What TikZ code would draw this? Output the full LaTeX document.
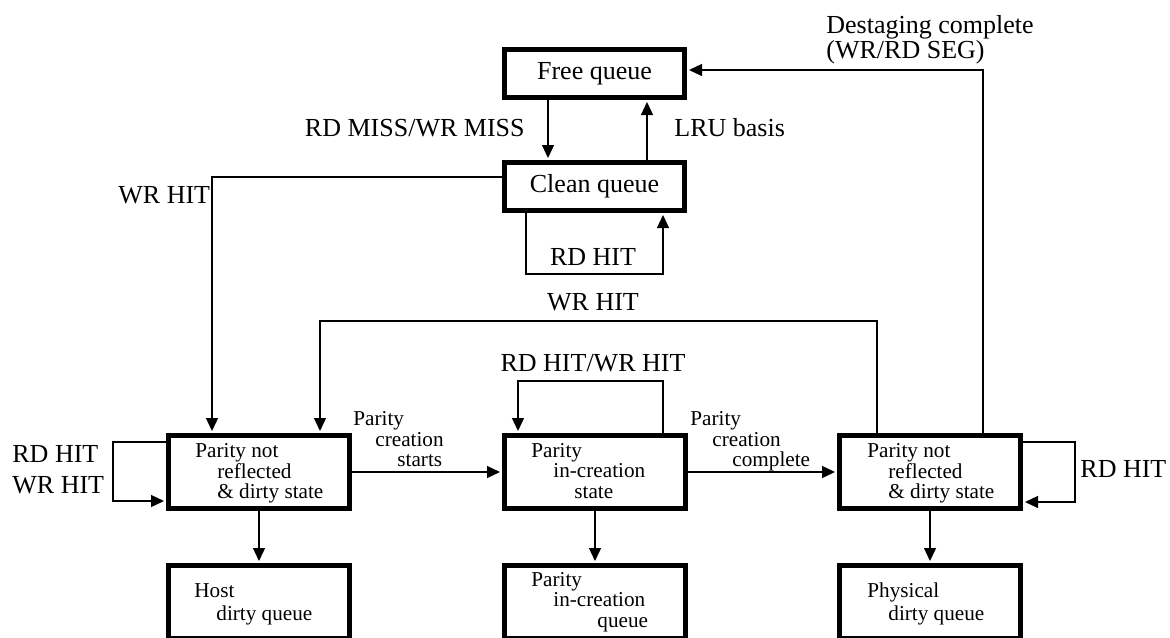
\documentclass[tikz,border=0pt]{standalone}
\usepackage{fontspec}
\setmainfont{Liberation Serif}
\usetikzlibrary{arrows.meta}
\begin{document}
\begin{tikzpicture}[x=0.5pt,y=-0.5pt,
  box/.style={draw, line width=2.5pt, minimum width=90.5pt, minimum height=36.5pt, inner sep=0pt},
  qbox/.style={draw, line width=2.5pt, minimum width=90pt, minimum height=24pt, inner sep=0pt, font=\fontsize{13}{15}\selectfont},
  conn/.style={line width=0.65pt},
  arr/.style={conn, -{Triangle[length=6.5pt,width=6pt]}, shorten >=1pt},
  big/.style={inner sep=0pt, font=\fontsize{13}{15.5}\selectfont},
  small/.style={inner sep=0pt, font=\fontsize{10.6}{10.25}\selectfont},
]
\useasboundingbox (0,0) rectangle (1170,637);

% boxes
\node[qbox] (free) at (594.5,73.5) {Free queue};
\node[qbox] (clean) at (594.5,186.5) {Clean queue};
\node[box] (s1) at (259,472) {};
\node[box] (s2) at (595,472) {};
\node[box] (s3) at (930,472) {};
\node[box] (q1) at (259,602) {};
\node[box] (q2) at (595,602) {};
\node[box] (q3) at (930,602) {};

% box texts
\node[small, anchor=base west] (t1) at (195,457) {\begin{tabular}[t]{@{}l@{}}Parity not\\\hspace*{11pt}reflected\\\hspace*{11pt}\& dirty state\end{tabular}};
\node[small, anchor=base west] (t2) at (531,457) {\begin{tabular}[t]{@{}l@{}}Parity\\\hspace*{11pt}in-creation\\\hspace*{21.5pt}state\end{tabular}};
\node[small, anchor=base west] (t3) at (867,457) {\begin{tabular}[t]{@{}l@{}}Parity not\\\hspace*{10.5pt}reflected\\\hspace*{10.5pt}\& dirty state\end{tabular}};
\node[inner sep=0pt, font=\fontsize{10.6}{11.5}\selectfont, anchor=base west] (t4) at (194,597) {\begin{tabular}[t]{@{}l@{}}Host\\\hspace*{11pt}dirty queue\end{tabular}};
\node[small, anchor=base west] (t5) at (531,586) {\begin{tabular}[t]{@{}l@{}}Parity\\\hspace*{11pt}in-creation\\\hspace*{33pt}queue\end{tabular}};
\node[inner sep=0pt, font=\fontsize{10.6}{11.5}\selectfont, anchor=base west] (t6) at (867,597) {\begin{tabular}[t]{@{}l@{}}Physical\\\hspace*{10.5pt}dirty queue\end{tabular}};

% small labels
\node[small, anchor=base west] (lstart) at (353,425.5) {\begin{tabular}[t]{@{}l@{}}Parity\\\hspace*{11pt}creation\\\hspace*{22pt}starts\end{tabular}};
\node[small, anchor=base west] (lcomp) at (690,425.5) {\begin{tabular}[t]{@{}l@{}}Parity\\\hspace*{11pt}creation\\\hspace*{21pt}complete\end{tabular}};

% big labels
\node[inner sep=0pt, font=\fontsize{13}{12.5}\selectfont, anchor=base west] (ldest) at (826,33) {\begin{tabular}[t]{@{}l@{}}Destaging complete\\(WR/RD SEG)\end{tabular}};
\node[big, anchor=base east] (lmiss) at (525,136) {RD MISS/WR MISS};
\node[big, anchor=base west] (llru) at (674,136) {LRU basis};
\node[big, anchor=base west] (lwr1) at (118,203) {WR HIT};
\node[big, anchor=base] (lrdc) at (593,265) {RD HIT};
\node[big, anchor=base] (lwr2) at (593,310) {WR HIT};
\node[big, anchor=base] (lrw) at (593,371) {RD HIT/WR HIT};
\node[big, anchor=base west] (lleft) at (12,462) {\begin{tabular}[t]{@{}l@{}}RD HIT\\WR HIT\end{tabular}};
\node[big, anchor=base west] (lright) at (1080,477) {RD HIT};

% connectors
\draw[arr] (free.south -| 548,0) -- (clean.north -| 548,0);
\draw[arr] (clean.north -| 647,0) -- (free.south -| 647,0);
\draw[arr] (clean.south -| 526,0) -- (526,274) -- (663,274) -- (clean.south -| 663,0);
\draw[arr] (clean.west |- 0,177) -- (212,177) -- (s1.north -| 212,0);
\draw[arr] (s3.north -| 877,0) -- (877,321) -- (320,321) -- (s1.north -| 320,0);
\draw[arr] (s3.north -| 983,0) -- (983,70) -- (free.east |- 0,70);
\draw[arr] (s1.east) -- (s2.west);
\draw[arr] (s2.east) -- (s3.west);
\draw[arr] (s2.north -| 663,0) -- (663,381) -- (518,381) -- (s2.north -| 518,0);
\draw[arr] (s1.west |- 0,442) -- (113,442) -- (113,501) -- (s1.west |- 0,501);
\draw[arr] (s3.east |- 0,442) -- (1075,442) -- (1075,502) -- (s3.east |- 0,502);
\draw[arr] (s1.south) -- (q1.north);
\draw[arr] (s2.south) -- (q2.north);
\draw[arr] (s3.south) -- (q3.north);
\end{tikzpicture}
\end{document}
